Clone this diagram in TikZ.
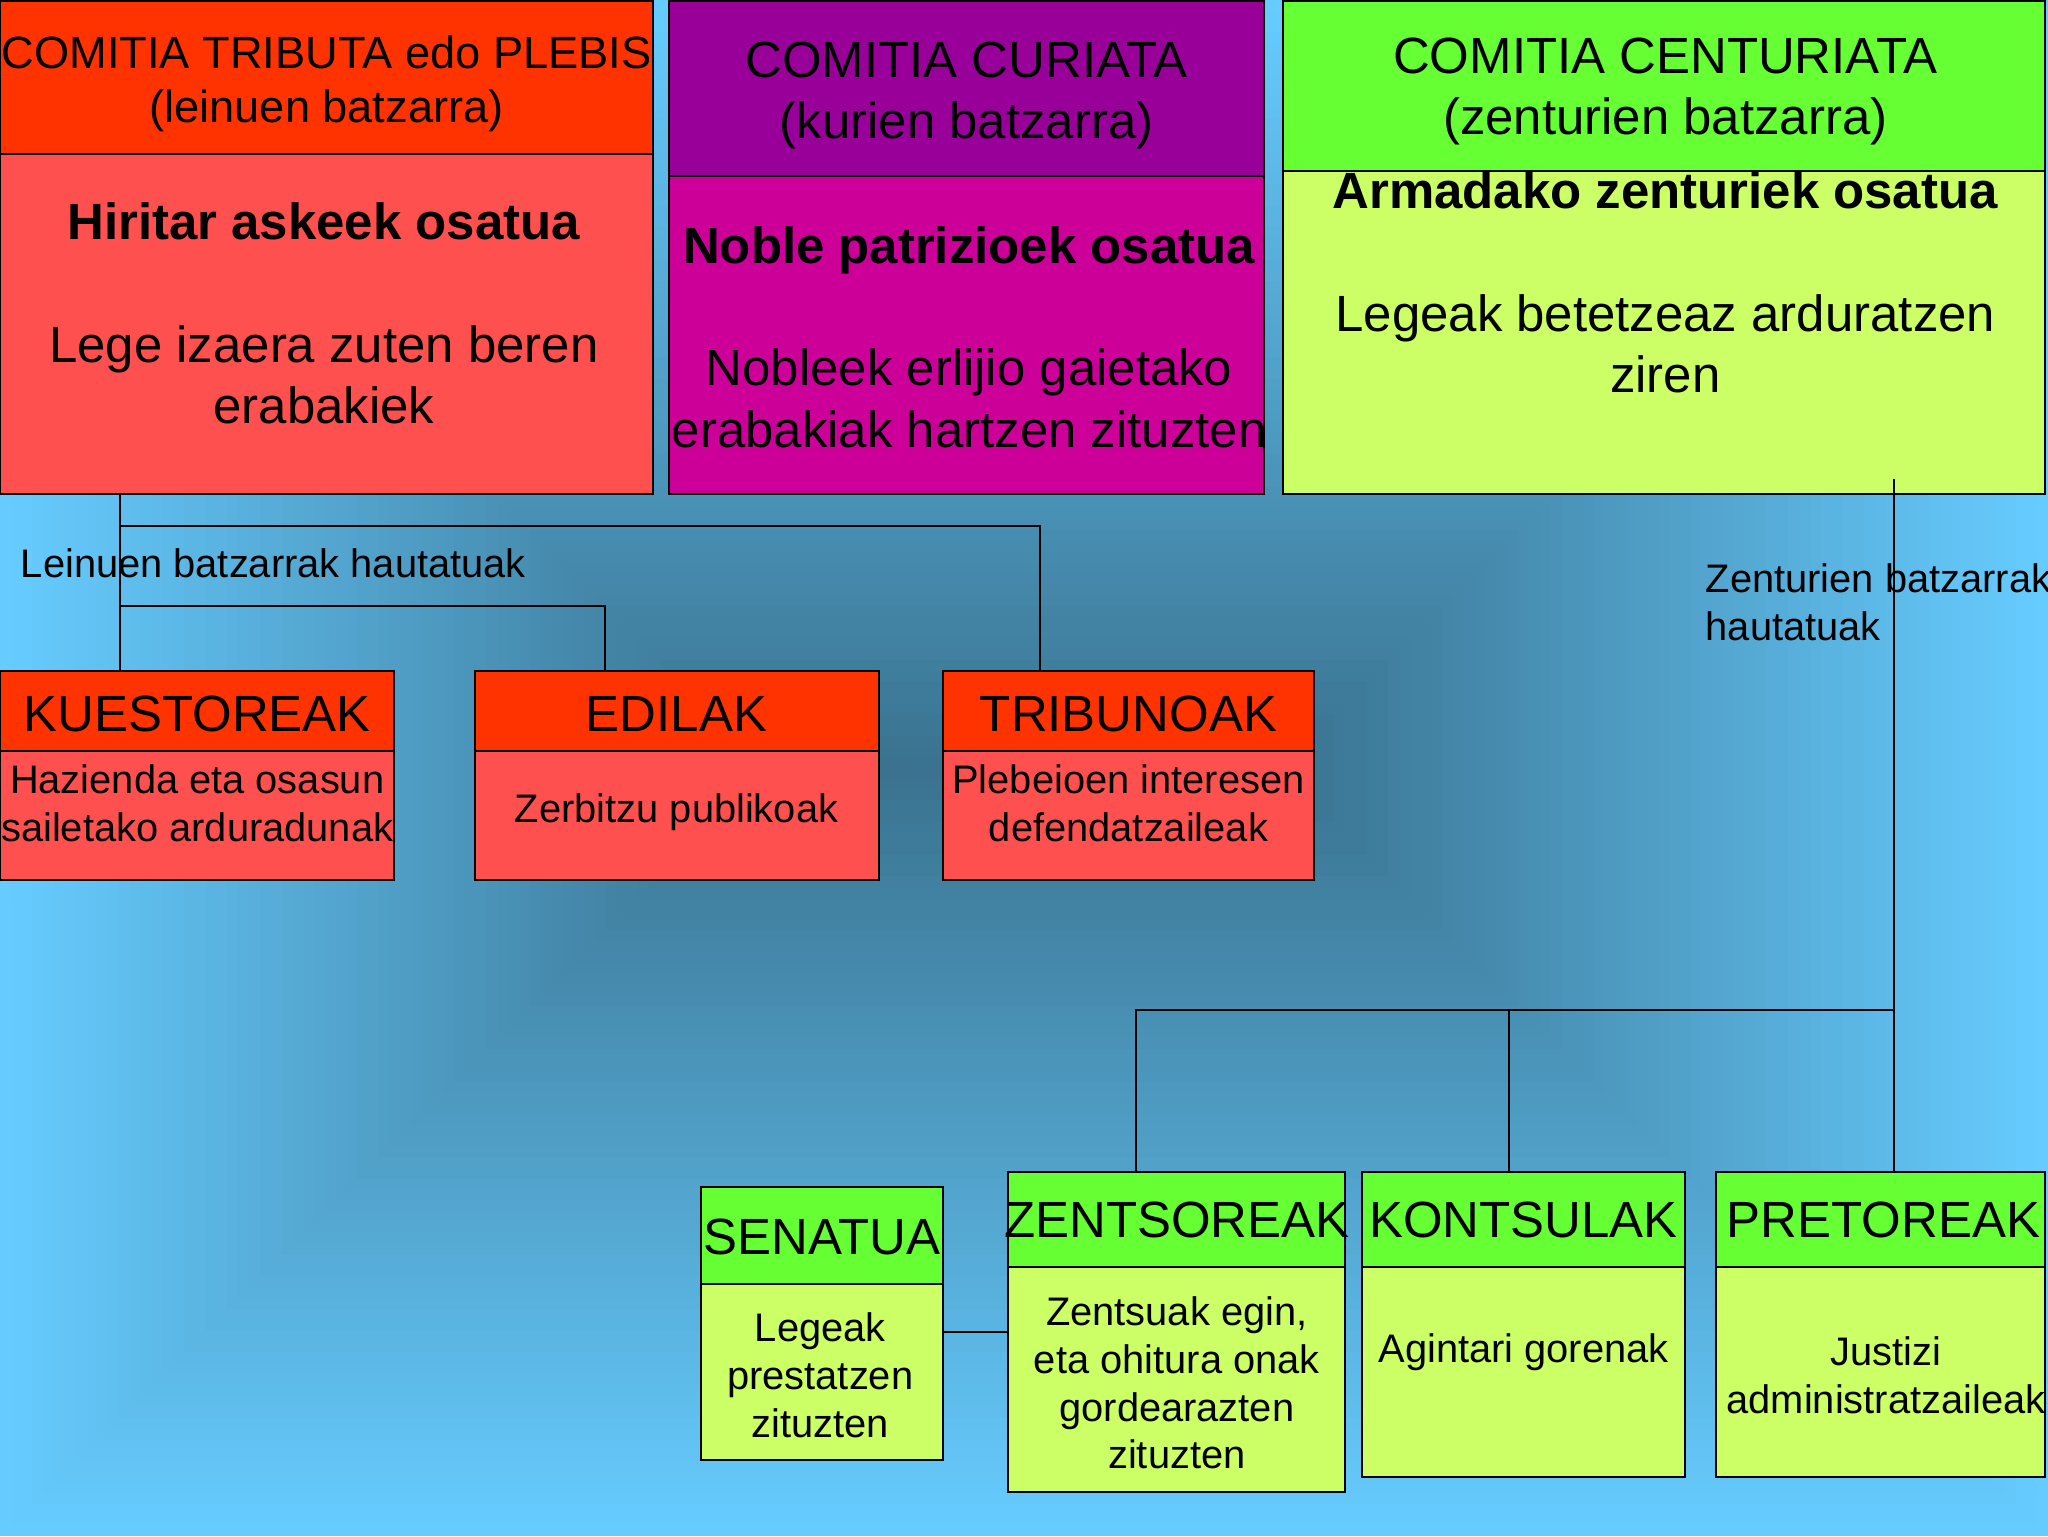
\documentclass[tikz,border=0pt]{standalone}
\usepackage{fontspec}
\setmainfont{Liberation Sans}
\usetikzlibrary{calc}
\definecolor{bgLight}{RGB}{102,204,255}
\definecolor{bgDark}{RGB}{58,114,143}
\definecolor{hdrRed}{RGB}{255,51,0}
\definecolor{bodyRed}{RGB}{255,80,80}
\definecolor{hdrPurple}{RGB}{153,0,153}
\definecolor{bodyMagenta}{RGB}{204,0,153}
\definecolor{hdrGreen}{RGB}{102,255,51}
\definecolor{bodyLime}{RGB}{204,255,102}
\newcommand\fbig{\fontsize{39}{47}\selectfont}
\newcommand\ftrib{\fontsize{34.6}{41}\selectfont}
\newcommand\fsmall{\fontsize{30.5}{36.5}\selectfont}
\tikzset{
  boxbase/.style={draw=black, line width=1.5pt, inner sep=0pt, outer sep=0pt, anchor=north west},
  txt/.style={inner sep=0pt, outer sep=0pt, align=center, text=black},
  conn/.style={draw=black, line width=1.6pt},
}
\newcommand\mkbox[6]{\node[boxbase, fill=#6, minimum width=#4pt, minimum height=#5pt] (#1) at (#2,#3) {};}
\begin{document}
\begin{tikzpicture}[x=1pt,y=-1pt]
\useasboundingbox (0,0) rectangle (1568,1176);
% background: rectangular (equal inset) gradient
\fill[bgLight] (0,0) rectangle (1568,1176);
\foreach \i in {1,...,70} {
  \pgfmathsetmacro\d{8.2817*\i}
  \pgfmathtruncatemacro\p{100*\i/70}
  \fill[bgDark!\p!bgLight] (\d,\d) rectangle ({1568-\d},{1176-\d});
}
% top boxes
\mkbox{tribH}{0}{1}{500}{117}{hdrRed}
\mkbox{tribB}{0}{118}{500}{260}{bodyRed}
\mkbox{curH}{512}{1}{456}{134}{hdrPurple}
\mkbox{curB}{512}{135}{456}{243}{bodyMagenta}
\mkbox{cenH}{982}{1}{584}{130}{hdrGreen}
\mkbox{cenB}{982}{131}{584}{247}{bodyLime}
% middle boxes
\mkbox{kuesH}{0}{514}{302}{61}{hdrRed}
\mkbox{kuesB}{0}{575}{302}{99}{bodyRed}
\mkbox{edilH}{364}{514}{309}{61}{hdrRed}
\mkbox{edilB}{364}{575}{309}{99}{bodyRed}
\mkbox{tribunH}{722}{514}{284}{61}{hdrRed}
\mkbox{tribunB}{722}{575}{284}{99}{bodyRed}
% bottom boxes
\mkbox{senH}{537}{909}{185}{74}{hdrGreen}
\mkbox{senB}{537}{983}{185}{135}{bodyLime}
\mkbox{zenH}{772}{897}{258}{73}{hdrGreen}
\mkbox{zenB}{772}{970}{258}{172}{bodyLime}
\mkbox{konH}{1043}{897}{247}{73}{hdrGreen}
\mkbox{konB}{1043}{970}{247}{161}{bodyLime}
\mkbox{preH}{1314}{897}{252}{73}{hdrGreen}
\mkbox{preB}{1314}{970}{252}{161}{bodyLime}
% connectors left
\coordinate (jL1) at (92,403);
\coordinate (jL2) at (92,464);
\draw[conn] ([xshift=92pt]tribB.south west) -- ([xshift=92pt]kuesH.north west);
\draw[conn] (jL1) -| ([xshift=74pt]tribunH.north west);
\draw[conn] (jL2) -| ([xshift=99pt]edilH.north west);
% connectors right
\coordinate (jR) at (1450,773);
\draw[conn] ([xshift=468pt,yshift=11pt]cenB.south west) -- ([xshift=136pt]preH.north west);
\draw[conn] (jR) -| ([xshift=98pt]zenH.north west);
\draw[conn] ([xshift=112pt]konH.north west) |- (jR);
\draw[conn] (senB.east |- 0,1020) -- (zenB.west |- 0,1020);
% texts top
\node[txt, font=\ftrib] (tribHt) at (250,64) {COMITIA TRIBUTA edo PLEBIS\\(leinuen batzarra)};
\node[txt, font=\fbig] (tribBt) at (248,240) {\textbf{Hiritar askeek osatua}\\[47pt]Lege izaera zuten beren\\erabakiek};
\node[txt, font=\fbig] (curHt) at (740,73) {COMITIA CURIATA\\(kurien batzarra)};
\node[txt, font=\fbig] (curBt) at (742,258) {\textbf{Noble patrizioek osatua}\\[47pt]Nobleek erlijio gaietako\\erabakiak hartzen zituzten};
\node[txt, font=\fbig] (cenHt) at (1275,70) {COMITIA CENTURIATA\\(zenturien batzarra)};
\node[txt, font=\fbig] (cenBt) at (1275,216) {\textbf{Armadako zenturiek osatua}\\[47pt]Legeak betetzeaz arduratzen\\ziren};
% labels
\node[txt, font=\fsmall, anchor=west] (lblL) at (16,431) {Leinuen batzarrak hautatuak};
\node[txt, font=\fsmall, anchor=west, align=left] (lblR) at (1306,461) {Zenturien batzarrak\\hautatuak};
% middle texts
\node[txt, font=\fbig] (kuesHt) at (151,547) {KUESTOREAK};
\node[txt, font=\fsmall] (kuesBt) at (151,615) {Hazienda eta osasun\\sailetako arduradunak};
\node[txt, font=\fbig] (edilHt) at (518,547) {EDILAK};
\node[txt, font=\fsmall] (edilBt) at (518,622) {Zerbitzu publikoak};
\node[txt, font=\fbig] (tribunHt) at (864,547) {TRIBUNOAK};
\node[txt, font=\fsmall] (tribunBt) at (864,615) {Plebeioen interesen\\defendatzaileak};
% bottom texts
\node[txt, font=\fbig] (senHt) at (629.5,947) {SENATUA};
\node[txt, font=\fsmall] (senBt) at (628,1053) {Legeak\\prestatzen\\zituzten};
\node[txt, font=\fbig] (zenHt) at (901,934) {ZENTSOREAK};
\node[txt, font=\fsmall] (zenBt) at (901,1059) {Zentsuak egin,\\eta ohitura onak\\gordearazten\\zituzten};
\node[txt, font=\fbig] (konHt) at (1166.5,934) {KONTSULAK};
\node[txt, font=\fsmall] (konBt) at (1166.5,1035) {Agintari gorenak};
\node[txt, font=\fbig] (preHt) at (1442,934) {PRETOREAK};
\node[txt, font=\fsmall] (preBt) at (1444,1053) {Justizi\\administratzaileak};
\end{tikzpicture}
\end{document}
